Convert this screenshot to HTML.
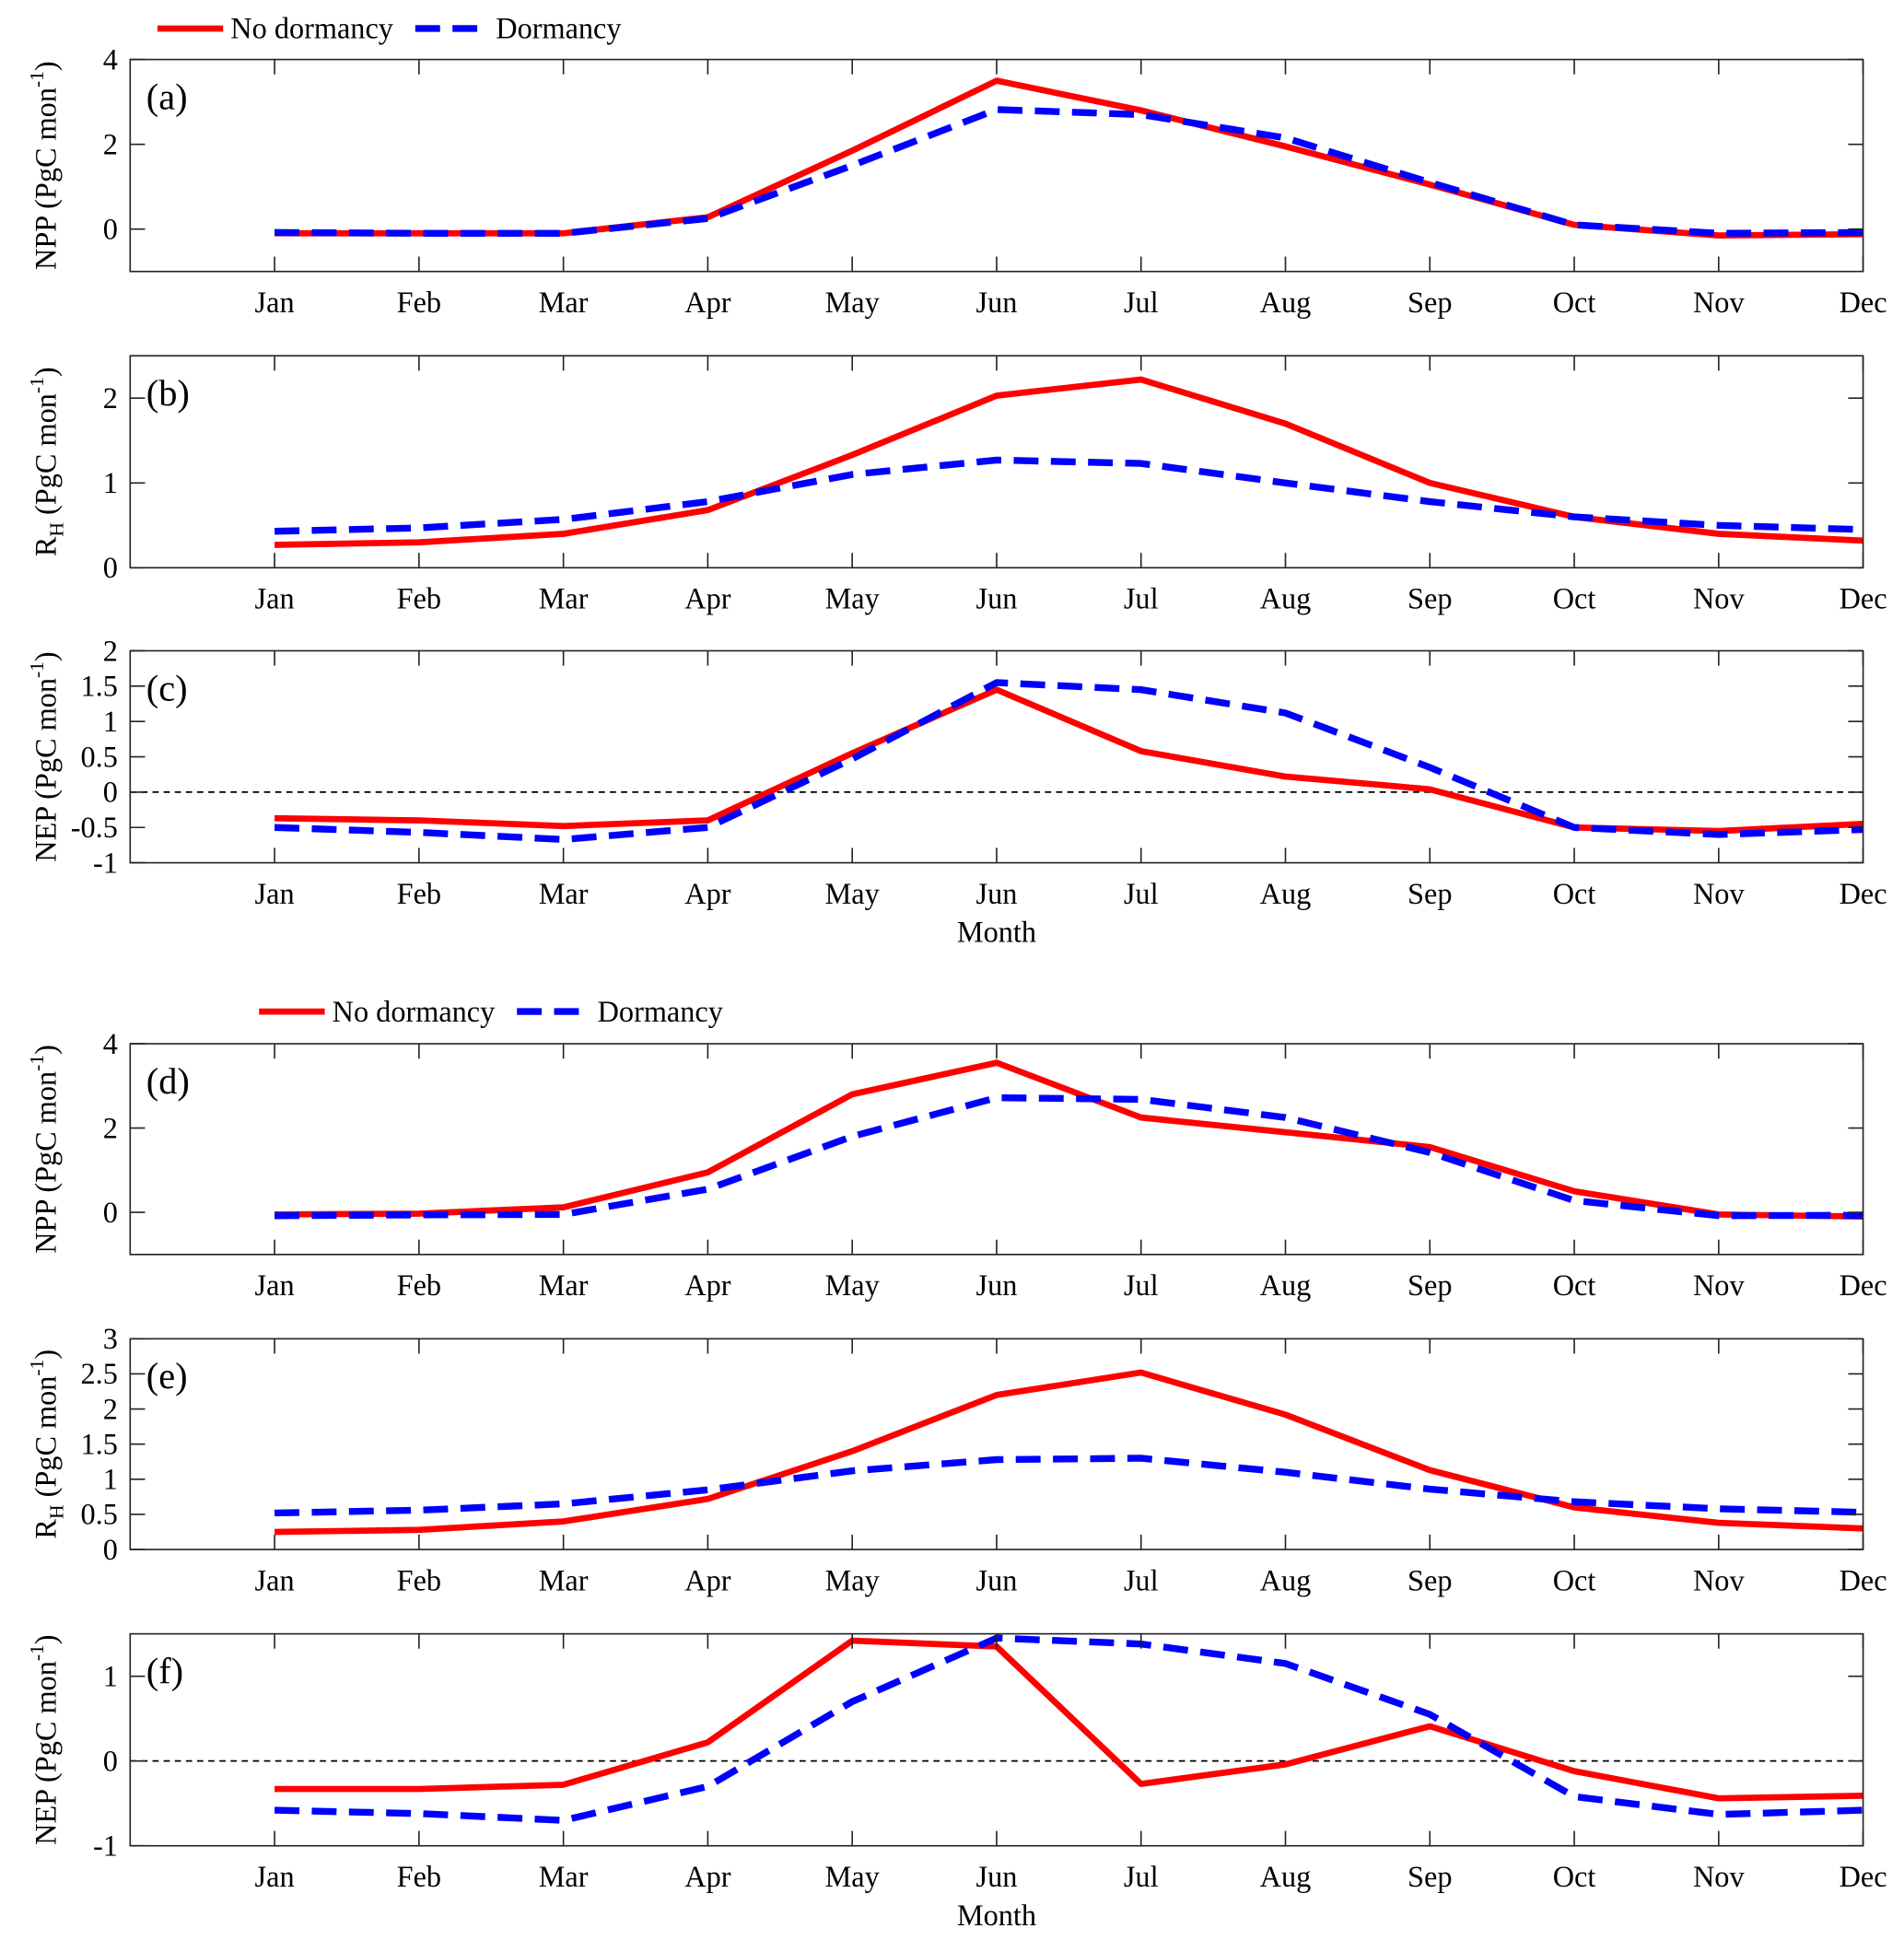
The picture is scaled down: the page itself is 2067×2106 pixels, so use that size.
<!DOCTYPE html>
<html><head><meta charset="utf-8"><style>
html,body{margin:0;padding:0;background:#fff}
svg{display:block}
text{font-family:"Liberation Serif",serif;fill:#000}
</style></head><body>
<svg id="fig" width="2067" height="2106" viewBox="0 0 1536 1565" xmlns="http://www.w3.org/2000/svg"></svg>
<script>
const months=["Jan","Feb","Mar","Apr","May","Jun","Jul","Aug","Sep","Oct","Nov","Dec"];
const npp1Red=[-0.1,-0.1,-0.1,0.28,1.85,3.5,2.8,1.95,1.05,0.1,-0.15,-0.12];
const npp1Blue=[-0.08,-0.1,-0.1,0.25,1.5,2.82,2.7,2.15,1.1,0.1,-0.1,-0.08];
const rh1Red=[0.27,0.3,0.4,0.68,1.33,2.03,2.22,1.7,1.0,0.6,0.4,0.32];
const rh1Blue=[0.43,0.47,0.57,0.78,1.1,1.27,1.23,1.0,0.78,0.6,0.5,0.45];
const nep1Red=[-0.37,-0.4,-0.48,-0.4,0.55,1.45,0.58,0.22,0.04,-0.5,-0.55,-0.45];
const nep1Blue=[-0.5,-0.57,-0.67,-0.5,0.47,1.55,1.45,1.12,0.35,-0.5,-0.6,-0.53];
const npp2Red=[-0.05,-0.03,0.12,0.95,2.8,3.55,2.25,1.9,1.55,0.5,-0.05,-0.1];
const npp2Blue=[-0.08,-0.06,-0.05,0.55,1.8,2.72,2.68,2.25,1.42,0.28,-0.08,-0.07];
const rh2Red=[0.25,0.28,0.4,0.72,1.4,2.2,2.52,1.92,1.13,0.6,0.38,0.3];
const rh2Blue=[0.52,0.56,0.65,0.85,1.12,1.28,1.3,1.1,0.86,0.68,0.58,0.53];
const nep2Red=[-0.33,-0.33,-0.28,0.22,1.42,1.35,-0.27,-0.04,0.41,-0.12,-0.44,-0.41];
const nep2Blue=[-0.58,-0.62,-0.7,-0.3,0.7,1.45,1.38,1.15,0.55,-0.42,-0.63,-0.58];
const ticksNPP=[0,2,4], ticksRH1=[0,1,2], ticksNEP1=[-1,-0.5,0,0.5,1,1.5,2], ticksRH2=[0,0.5,1,1.5,2,2.5,3], ticksNEP2=[-1,0,1];

const NS="http://www.w3.org/2000/svg";
const svg=document.getElementById('fig');
function el(t,a,p){const e=document.createElementNS(NS,t);for(const k in a)e.setAttribute(k,a[k]);(p||svg).appendChild(e);return e;}
const L=105,R=1503;
function xs(i){return L+(i+1)*(R-L)/12;}

function panel(o){
  const g=el('g',{});
  
  
  const ys=v=>o.bot-(v-o.ymin)/(o.ymax-o.ymin)*(o.bot-o.top);
  if(o.zero){const z=el('line',{x1:L,x2:R,y1:ys(0),y2:ys(0),stroke:'#000','stroke-width':1.3,'stroke-dasharray':'5,4'},g);
    }
  const series=[[o.red,'#f00','none',5,'red'],[o.blue,'#00f','20,10',5.5,'blue']];
  series.forEach(([d,c,da,w,n])=>{
    const p=el('polyline',{points:d.map((v,i)=>xs(i)+','+ys(v)).join(' '),fill:'none',stroke:c,'stroke-width':w,'stroke-dasharray':da,'stroke-linejoin':'round'},g);
    
    
  });
  const box=el('rect',{x:L,y:o.top,width:R-L,height:o.bot-o.top,fill:'none',stroke:'#222','stroke-width':1.2},g);
  
  o.ticks.forEach(v=>{
    const y=ys(v);
    el('line',{x1:L,x2:L+12,y1:y,y2:y,stroke:'#222','stroke-width':1.2},g);
    el('line',{x1:R,x2:R-12,y1:y,y2:y,stroke:'#222','stroke-width':1.2},g);
    const t=el('text',{x:L-10,y:y+8,'text-anchor':'end','font-size':24},g);
    t.textContent=String(v);
    
  });
  months.forEach((m,i)=>{
    const x=xs(i);
    el('line',{x1:x,x2:x,y1:o.bot,y2:o.bot-12,stroke:'#222','stroke-width':1.2},g);
    el('line',{x1:x,x2:x,y1:o.top,y2:o.top+12,stroke:'#222','stroke-width':1.2},g);
    const t=el('text',{x:x,y:o.bot+33,'text-anchor':'middle','font-size':24},g);
    t.textContent=m;
    
  });
  const pl=el('text',{x:118,y:o.top+40,'font-size':30},g);pl.textContent='('+o.id+')';
  
  const cy=(o.top+o.bot)/2;
  const yl=el('text',{x:0,y:0,'font-size':24,'text-anchor':'middle',transform:`translate(45,${cy}) rotate(-90)`},g);
  
  if(o.rh){yl.innerHTML='R<tspan font-size="16" dy="6">H</tspan><tspan dy="-6"> (PgC mon</tspan><tspan font-size="16" dy="-10">-1</tspan><tspan dy="10">)</tspan>';}
  else{yl.innerHTML=o.lab+' (PgC mon<tspan font-size="16" dy="-10">-1</tspan><tspan dy="10">)</tspan>';}
  if(o.month){const t=el('text',{x:(L+R)/2,y:o.bot+64,'text-anchor':'middle','font-size':24},g);t.textContent='Month';
    }
}
function legend(x0,y){
  const g=el('g',{});
  
  el('line',{x1:x0,x2:x0+53,y1:y,y2:y,stroke:'#f00','stroke-width':5},g);
  let t=el('text',{x:x0+59,y:y+8,'font-size':24},g);t.textContent='No dormancy';
  
  el('line',{x1:x0+208,x2:x0+263,y1:y,y2:y,stroke:'#00f','stroke-width':5.5,'stroke-dasharray':'20,10'},g);
  t=el('text',{x:x0+273,y:y+8,'font-size':24},g);t.textContent='Dormancy';
  
}
legend(127,23);
panel({id:'a',top:48,bot:219,ymin:-1,ymax:4,ticks:ticksNPP,red:npp1Red,blue:npp1Blue,lab:'NPP'});
panel({id:'b',top:287,bot:458,ymin:0,ymax:2.5,ticks:ticksRH1,red:rh1Red,blue:rh1Blue,rh:true});
panel({id:'c',top:525,bot:696,ymin:-1,ymax:2,ticks:ticksNEP1,red:nep1Red,blue:nep1Blue,lab:'NEP',zero:true,month:true});
legend(209,816);
panel({id:'d',top:842,bot:1012,ymin:-1,ymax:4,ticks:ticksNPP,red:npp2Red,blue:npp2Blue,lab:'NPP'});
panel({id:'e',top:1080,bot:1250,ymin:0,ymax:3,ticks:ticksRH2,red:rh2Red,blue:rh2Blue,rh:true});
panel({id:'f',top:1318,bot:1489,ymin:-1,ymax:1.5,ticks:ticksNEP2,red:nep2Red,blue:nep2Blue,lab:'NEP',zero:true,month:true});
</script>
</body></html>
